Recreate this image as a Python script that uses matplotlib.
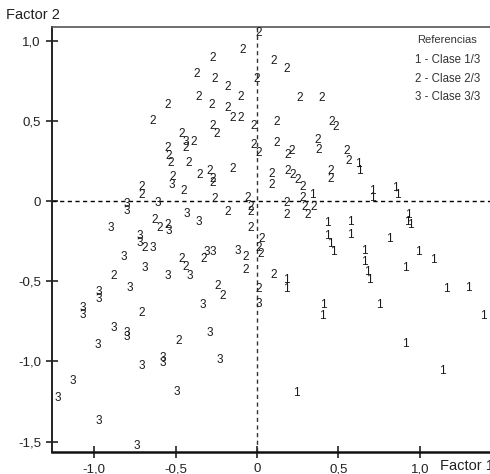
import matplotlib
matplotlib.use("Agg")
import matplotlib.pyplot as plt
from matplotlib.ticker import FuncFormatter

plt.rcParams['font.family'] = ['Liberation Sans', 'DejaVu Sans']

# ---- datos (Factor 1, Factor 2) ----
# Clase 1/3
x1 = [0.34, 0.62, 0.63, 0.71, 0.71, 0.85, 0.86, 0.43, 0.57, 0.93, 0.92, 0.94,
      0.43, 0.45, 0.47, 0.57, 0.81, 0.66, 0.99, 1.08, 0.66, 0.68, 0.69, 0.91,
      1.16, 1.30, 0.41, 0.40, 0.75, 1.39, 0.91, 1.14, 0.24, 0.18, 0.18]
y1 = [0.04, 0.23, 0.19, 0.06, 0.02, 0.08, 0.04, -0.14, -0.13, -0.09, -0.13, -0.15,
      -0.22, -0.27, -0.32, -0.21, -0.24, -0.31, -0.32, -0.37, -0.38, -0.44, -0.49, -0.42,
      -0.55, -0.54, -0.65, -0.72, -0.65, -0.72, -0.89, -1.06, -1.20, -0.49, -0.55]

# Clase 2/3
x2 = [0.01, -0.09, -0.27, 0.10, 0.18, -0.37, -0.26, -0.18, 0.00, -0.10,
      -0.36, -0.28, -0.55, -0.64, 0.26, 0.40, -0.18, -0.15, -0.10, -0.02,
      0.12, -0.27, -0.25, 0.46, 0.48, -0.46, -0.39, -0.44, -0.55, -0.54,
      -0.53, -0.42, -0.02, 0.01, 0.12, 0.19, 0.21, 0.37, 0.38, -0.35,
      -0.29, -0.27, -0.27, -0.15, -0.52, -0.45, -0.71, -0.71, -0.26, -0.06,
      -0.04, -0.04, 0.09, 0.09, 0.19, 0.22, 0.25, 0.28, 0.45, 0.45,
      0.56, 0.55, 0.18, 0.18, 0.28, 0.29, 0.31, 0.35, -0.18, -0.63,
      -0.60, -0.55, -0.69, -0.46, -0.44, -0.88, -0.71, -0.48, -0.33, -0.07,
      -0.07, 0.03, 0.01, 0.02, 0.10, 0.01, -0.24, -0.21, -0.04]
y2 = [1.05, 0.94, 0.89, 0.87, 0.82, 0.79, 0.76, 0.71, 0.76, 0.65,
      0.65, 0.60, 0.60, 0.50, 0.64, 0.64, 0.58, 0.52, 0.52, 0.47,
      0.49, 0.47, 0.42, 0.49, 0.46, 0.42, 0.37, 0.33, 0.33, 0.28,
      0.24, 0.24, 0.35, 0.30, 0.36, 0.29, 0.31, 0.38, 0.32, 0.16,
      0.19, 0.14, 0.11, 0.20, 0.15, 0.06, 0.09, 0.04, 0.01, 0.02,
      -0.04, -0.07, 0.17, 0.10, 0.19, 0.16, 0.13, 0.09, 0.19, 0.14,
      0.25, 0.31, -0.01, -0.09, 0.02, -0.04, -0.09, -0.04, -0.07, -0.12,
      -0.17, -0.15, -0.29, -0.36, -0.41, -0.47, -0.70, -0.87, -0.36, -0.35,
      -0.43, -0.24, -0.29, -0.33, -0.46, -0.55, -0.53, -0.59, -0.17]

# Clase 3/3
x3 = [-0.44, -0.52, -0.61, -0.80, -0.80, -0.90, -0.43, -0.36, -0.54, -0.72,
      -0.72, -0.64, -0.82, -0.69, -0.78, -0.55, -0.41, -0.97, -0.97, -1.07,
      -1.07, -0.31, -0.27, -0.12, 0.01, -0.33, -0.29, -0.88, -0.80, -0.80,
      -0.98, -0.58, -0.58, -0.71, -0.23, -1.13, -1.22, -0.97, -0.74, -0.49]
y3 = [0.37, 0.10, -0.01, -0.02, -0.06, -0.17, -0.08, -0.13, -0.19, -0.22,
      -0.26, -0.29, -0.35, -0.42, -0.54, -0.47, -0.47, -0.57, -0.61, -0.67,
      -0.71, -0.32, -0.32, -0.31, -0.64, -0.65, -0.82, -0.79, -0.82, -0.85,
      -0.90, -0.98, -1.01, -1.03, -0.99, -1.12, -1.23, -1.37, -1.53, -1.19]

series = [("1", x1, y1), ("2", x2, y2), ("3", x3, y3)]
leyenda = ["1 - Clase 1/3", "2 - Clase 2/3", "3 - Clase 3/3"]

# ---- figura ----
fig = plt.figure(figsize=(4.9, 4.74), dpi=100)
ax = fig.add_axes([52/490, 1 - 452/474, 438/490, 425/474])

ax.set_xlim(-1.258, 1.43)
ax.set_ylim(-1.565, 1.085)

for etiqueta, xs, ys in series:
    for xv, yv in zip(xs, ys):
        ax.text(xv, yv, etiqueta, ha="center", va="center",
                fontsize=8.5, color="#1a1a1a")

# ejes de referencia punteados
ax.axhline(0, color="black", linestyle=(0, (3, 2.5)), linewidth=1)
ax.axvline(0, color="#333333", linestyle=(0, (3, 2.5)), linewidth=1)

ax.set_xticks([-1.0, -0.5, 0, 0.5, 1.0])
ax.set_yticks([-1.5, -1.0, -0.5, 0, 0.5, 1.0])
fmt = FuncFormatter(lambda v, p: "0" if abs(v) < 1e-9 else f"{v:.1f}".replace(".", ","))
ax.xaxis.set_major_formatter(fmt)
ax.yaxis.set_major_formatter(fmt)
ax.tick_params(direction="inout", length=8, width=1.2, labelsize=9.5,
               colors="#222222", pad=4)

ax.spines["right"].set_visible(False)
ax.spines["top"].set_color("#555555")
ax.spines["top"].set_linewidth(1.2)
ax.spines["left"].set_linewidth(1.4)
ax.spines["bottom"].set_linewidth(1.8)
ax.spines["left"].set_color("#222222")
ax.spines["bottom"].set_color("#111111")

# titulos de los ejes
fig.text(6/490, 1 - 15/474, "Factor 2", ha="left", va="center",
         fontsize=10.5, color="#222222")
fig.text(440/490, 1 - 466/474, "Factor 1", ha="left", va="center",
         fontsize=10.5, color="#222222")

# referencias
fig.text(447/490, 1 - 40/474, "Referencias", ha="center", va="center",
         fontsize=8, color="#333333")
for i, txt in enumerate(leyenda):
    fig.text(448/490, 1 - (60 + 18.5 * i)/474, txt, ha="center", va="center",
             fontsize=8.3, color="#333333")

fig.savefig("out.png", dpi=100)
